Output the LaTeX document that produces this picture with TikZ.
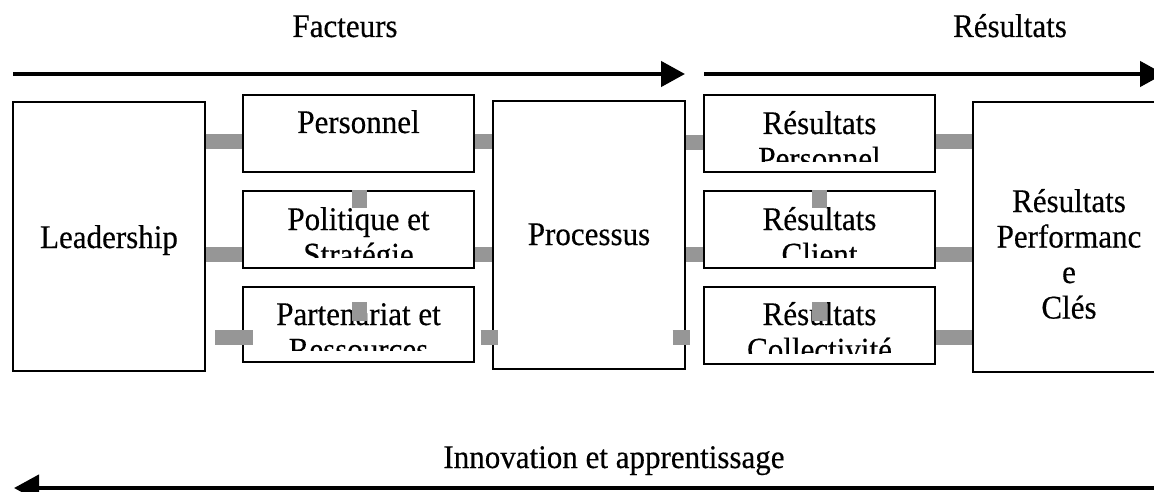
\documentclass[tikz,border=0pt]{standalone}
\usepackage{fontspec}
\setmainfont{Liberation Serif}[FakeStretch=0.94, FakeBold=0.4]
\usetikzlibrary{arrows.meta}
\definecolor{barg}{RGB}{150,150,150}
\tikzset{
  box/.style={draw=black, line width=1.3pt, fill=white, inner sep=0pt, rectangle},
  lbl/.style={anchor=base, inner sep=0pt, font=\fontsize{33}{35.5}\selectfont},
  bar/.style={draw=barg, line width=15pt, line cap=butt},
  bigarrow/.style={line width=4.5pt, -{Triangle[length=24pt, width=25pt]}},
}
\begin{document}
\begin{tikzpicture}[x=1pt, y=-1pt]
\useasboundingbox (0,0) rectangle (1154,492);
\clip (0,0) rectangle (1154,492);

% top labels
\node[lbl] (fact) at (345,37) {Facteurs};
\node[lbl] (resh) at (1010,37) {Résultats};

% top arrows
\coordinate (a1s) at (13,74);
\coordinate (a1e) at (685,74);
\coordinate (a2s) at (704,74);
\coordinate (a2e) at (1164,74);
\draw[bigarrow] (a1s) -- (a1e);
\draw[bigarrow] (a2s) -- (a2e);

% boxes
\node[box, minimum width=192pt, minimum height=269pt] (lead) at (109,236.5) {};
\node[box, minimum width=231pt, minimum height=77pt] (pers) at (358.5,133.5) {};
\node[box, minimum width=231pt, minimum height=77pt] (pol) at (358.5,229.5) {};
\node[box, minimum width=231pt, minimum height=75pt] (part) at (358.5,324.5) {};
\node[box, minimum width=192pt, minimum height=268pt] (proc) at (589,235) {};
\node[box, minimum width=231pt, minimum height=77pt] (rp) at (819.5,133.5) {};
\node[box, minimum width=231pt, minimum height=77pt] (rc) at (819.5,229.5) {};
\node[box, minimum width=231pt, minimum height=77pt] (rcol) at (819.5,325.5) {};
\node[box, minimum width=192pt, minimum height=270pt] (rpc) at (1069,237) {};

% texts
\node[lbl] (tlead) at (109,248) {Leadership};
\node[lbl] (tpers) at (358.5,133) {Personnel};
\begin{scope}
  \clip (pol.north west) rectangle ([yshift=11pt]pol.south east);
  \node[lbl] (tpol1) at (358.5,230) {Politique et};
  \node[lbl] (tpol2) at (358.5,265.5) {Stratégie};
\end{scope}
\begin{scope}
  \clip (part.north west) rectangle ([yshift=12pt]part.south east);
  \node[lbl] (tpart1) at (358.5,325) {Partenariat et};
  \node[lbl] (tpart2) at (358.5,360.5) {Ressources};
\end{scope}
\node[lbl] (tproc) at (589,245) {Processus};
\begin{scope}
  \clip (rp.north west) rectangle ([yshift=11pt]rp.south east);
  \node[lbl] (trp1) at (819.5,134) {Résultats};
  \node[lbl] (trp2) at (819.5,169.5) {Personnel};
\end{scope}
\begin{scope}
  \clip (rc.north west) rectangle ([yshift=11pt]rc.south east);
  \node[lbl] (trc1) at (819.5,230) {Résultats};
  \node[lbl] (trc2) at (819.5,265.5) {Client};
\end{scope}
\begin{scope}
  \clip (rcol.north west) rectangle ([yshift=11pt]rcol.south east);
  \node[lbl] (trcol1) at (819.5,325) {Résultats};
  \node[lbl] (trcol2) at (819.5,360.5) {Collectivité};
\end{scope}
\node[lbl] (trpc1) at (1069,212) {Résultats};
\node[lbl] (trpc2) at (1069,247.5) {Performanc};
\node[lbl] (trpc3) at (1069,283) {e};
\node[lbl] (trpc4) at (1069,318.5) {Clés};

% grey connectors
\draw[bar] (lead.east |- 0,142) -- (pers.west |- 0,142);
\draw[bar] (lead.east |- 0,254.5) -- (pol.west |- 0,254.5);
\draw[bar] ([xshift=-27pt]part.west |- 0,337.5) -- ([xshift=11pt]part.west |- 0,337.5);
\draw[bar] (pers.east |- 0,141.5) -- (proc.west |- 0,141.5);
\draw[bar] (pol.east |- 0,254.5) -- (proc.west |- 0,254.5);
\draw[bar] ([xshift=6pt]part.east |- 0,337.5) -- ([xshift=6pt]proc.west |- 0,337.5);
\draw[bar] (proc.east |- 0,142.5) -- (rp.west |- 0,142.5);
\draw[bar] (proc.east |- 0,254.5) -- (rc.west |- 0,254.5);
\draw[bar] ([xshift=-13pt]proc.east |- 0,337.5) -- ([xshift=-13pt]rcol.west |- 0,337.5);
\draw[bar] (rp.east |- 0,142) -- (rpc.west |- 0,142);
\draw[bar] (rc.east |- 0,254.5) -- (rpc.west |- 0,254.5);
\draw[bar] (rcol.east |- 0,337.5) -- (rpc.west |- 0,337.5);
% small vertical squares
\draw[bar] (pol.north -| 359.5,0) -- ([yshift=-18pt]pol.north -| 359.5,0);
\draw[bar] ([yshift=-16pt]part.north -| 359.5,0) -- ([yshift=-35pt]part.north -| 359.5,0);
\draw[bar] (rc.north -| 819.5,0) -- ([yshift=-18pt]rc.north -| 819.5,0);
\draw[bar] ([yshift=-16pt]rcol.north -| 819.5,0) -- ([yshift=-35pt]rcol.north -| 819.5,0);

% bottom
\node[lbl] (innov) at (614,468) {Innovation et apprentissage};
\coordinate (a3s) at (1170,488);
\coordinate (a3e) at (14,488);
\draw[line width=4.3pt, -{Triangle[length=25pt, width=26pt]}] (a3s) -- (a3e);
\end{tikzpicture}
\end{document}
